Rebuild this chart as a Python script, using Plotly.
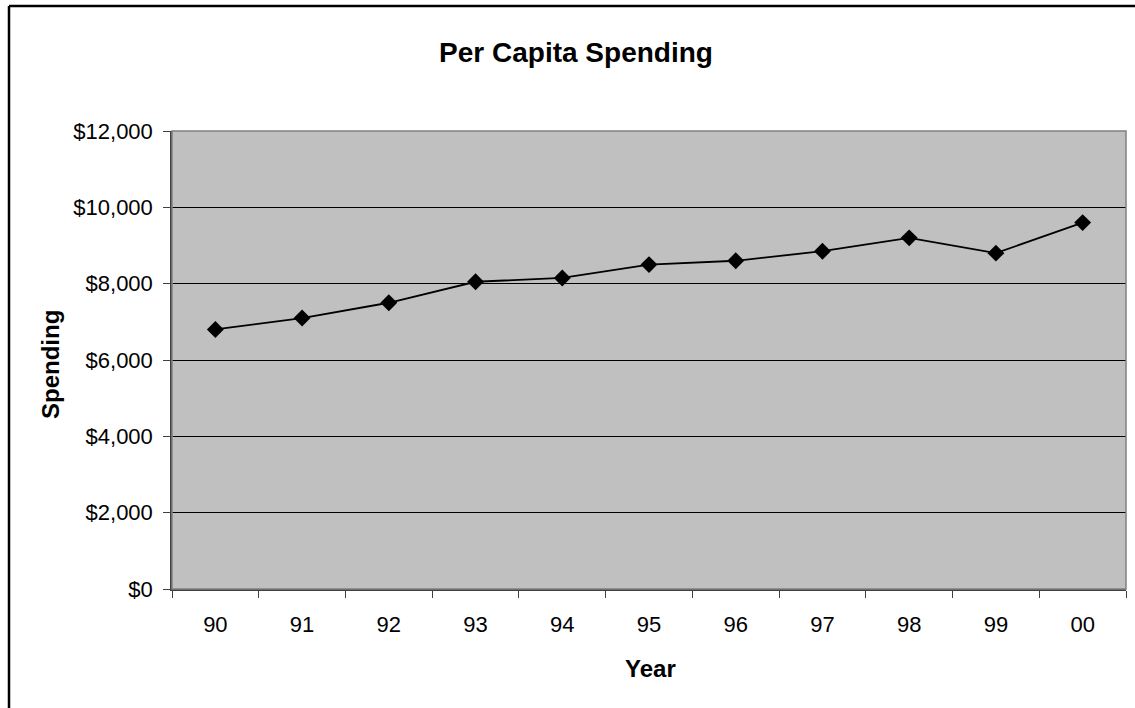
import plotly.graph_objects as go

years = ["90", "91", "92", "93", "94", "95", "96", "97", "98", "99", "00"]
spending = [6800, 7100, 7500, 8050, 8150, 8500, 8600, 8850, 9200, 8800, 9600]
y_ticks = [0, 2000, 4000, 6000, 8000, 10000, 12000]
y_tick_text = ["$0", "$2,000", "$4,000", "$6,000", "$8,000", "$10,000", "$12,000"]

W, H = 1135, 708
L, R, T, B = 172, 9, 131, 119
pw, ph = W - L - R, H - T - B

def px_x(px):
    return (px - L) / pw

def px_y(py):
    return (H - B - py) / ph

FONT = "Liberation Sans, Arial, sans-serif"

fig = go.Figure()
fig.add_trace(go.Scatter(
    x=years, y=spending, mode="lines+markers",
    line=dict(color="black", width=1.8),
    marker=dict(symbol="diamond", size=13, color="black"),
    showlegend=False,
))

fig.update_layout(
    width=W, height=H,
    margin=dict(l=L, r=R, t=T, b=B, pad=0),
    paper_bgcolor="white",
    plot_bgcolor="#c0c0c0",
    font=dict(family=FONT, color="black", size=22),
    title=dict(text="<b>Per Capita Spending</b>", x=576 / W, xanchor="center",
               y=1 - 52 / H, yanchor="middle", font=dict(size=28, family=FONT)),
    xaxis=dict(
        type="category", range=[-0.5, 10.5], tickson="boundaries",
        ticks="outside", ticklen=7, tickcolor="#404040", tickwidth=1,
        showline=True, linecolor="#404040", linewidth=2,
        showgrid=False, zeroline=False, ticklabelstandoff=15,
        tickfont=dict(size=22),
    ),
    yaxis=dict(
        range=[0, 12000], tickvals=y_ticks, ticktext=y_tick_text,
        ticks="outside", ticklen=7, tickcolor="#404040", tickwidth=1,
        showline=True, linecolor="#404040", linewidth=1.5,
        showgrid=True, gridcolor="black", gridwidth=1, zeroline=False,
        ticklabelstandoff=6, tickfont=dict(size=22),
    ),
    annotations=[
        dict(text="<b>Year</b>", x=px_x(650), y=px_y(668), xref="paper", yref="paper",
             showarrow=False, xanchor="center", yanchor="middle", font=dict(size=24)),
        dict(text="<b>Spending</b>", x=px_x(50), y=px_y(364), xref="paper", yref="paper",
             showarrow=False, xanchor="center", yanchor="middle", textangle=-90,
             font=dict(size=24)),
    ],
    shapes=[
        dict(type="rect", xref="paper", yref="paper", x0=0, x1=1, y0=0, y1=1,
             line=dict(color="#808080", width=1.5), layer="above"),
        dict(type="line", xref="paper", yref="paper", x0=px_x(9), x1=px_x(1145),
             y0=px_y(6), y1=px_y(6), line=dict(color="black", width=2.5)),
        dict(type="line", xref="paper", yref="paper", x0=px_x(9), x1=px_x(9),
             y0=px_y(6), y1=px_y(720), line=dict(color="black", width=2.5)),
    ],
)

fig.write_html("out.html", config={"displayModeBar": False},
               post_script="document.body.style.margin='0';")
